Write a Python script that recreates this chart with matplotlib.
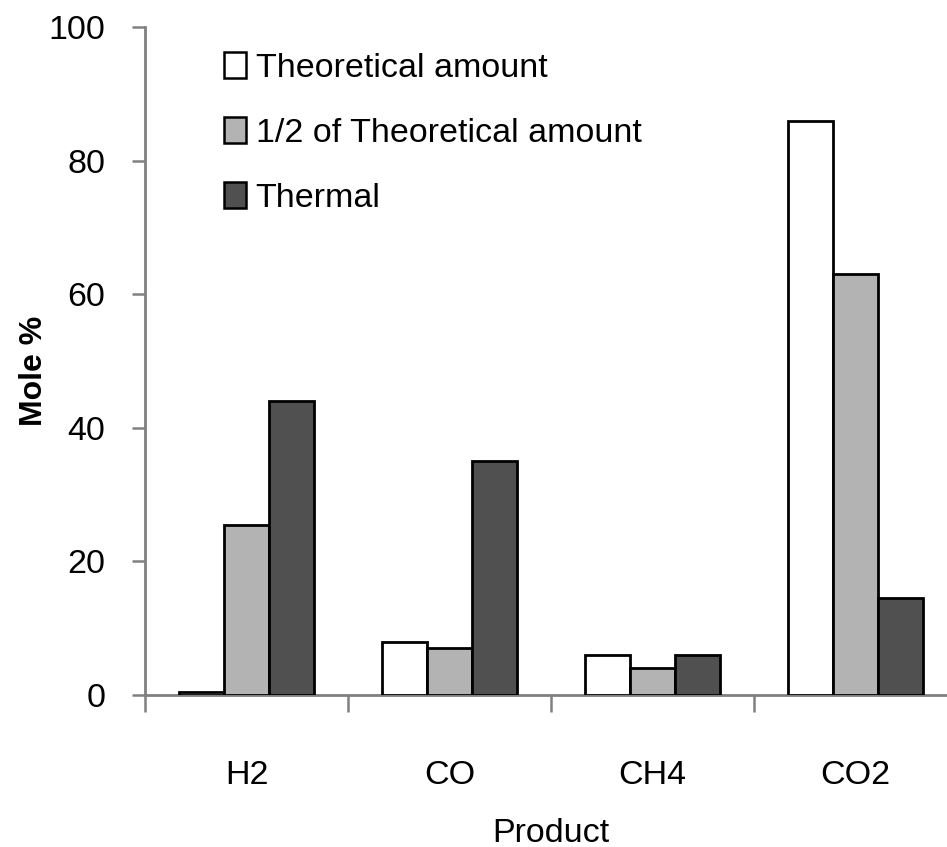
import matplotlib
matplotlib.use("Agg")
import matplotlib.pyplot as plt
import numpy as np
from matplotlib.patches import Patch

plt.rcParams['font.family'] = ['Liberation Sans', 'DejaVu Sans']

categories = ["H2", "CO", "CH4", "CO2"]
series_names = ["Theoretical amount", "1/2 of Theoretical amount", "Thermal"]
theoretical = [0.5, 8.0, 6.0, 86.0]
half_theoretical = [25.5, 7.0, 4.0, 63.0]
thermal = [44.0, 35.0, 6.0, 14.5]
colors = ["#ffffff", "#b3b3b3", "#505050"]

fig = plt.figure(figsize=(9.47, 8.47), dpi=100)
W, H = 947, 847
left, right, top, bottom = 145, 957, 27, 695
ax = fig.add_axes([left / W, 1 - bottom / H, (right - left) / W, (bottom - top) / H])

x = np.arange(len(categories))
bw = 0.222
for i, (vals, col) in enumerate(zip([theoretical, half_theoretical, thermal], colors)):
    ax.bar(x + (i - 1) * bw, vals, width=bw, color=col, edgecolor="black", linewidth=2.0, zorder=3)

ax.set_xlim(-0.5, len(categories) - 0.5)
ax.set_ylim(0, 100)
ax.set_yticks([0, 20, 40, 60, 80, 100])
ax.set_xticks(x)
ax.set_xticklabels(categories)
ax.set_xticks(np.arange(len(categories) + 1) - 0.5, minor=True)
ax.tick_params(axis='x', which='major', length=0, pad=47, labelsize=24.5)
ax.tick_params(axis='x', which='minor', length=12, width=1.8, color="#808080")
ax.tick_params(axis='y', length=9.5, width=1.8, color="#808080", labelsize=24.5, pad=19)

for s in ["top", "right"]:
    ax.spines[s].set_visible(False)
for s in ["left", "bottom"]:
    ax.spines[s].set_color("#808080")
    ax.spines[s].set_linewidth(2.0)

ax.set_ylabel("Mole %", fontsize=23, fontweight="bold")
ax.yaxis.set_label_coords((49 - left) / (right - left), 0.485)
ax.set_xlabel("Product", fontsize=24.5, labelpad=19)

handles = [Patch(facecolor=c, edgecolor="black", linewidth=1.8) for c in colors]
ax.legend(handles, series_names, loc="upper left", bbox_to_anchor=((224 - left) / (right - left), (bottom - 52) / (bottom - top)),
          frameon=False, fontsize=24.5, handlelength=0.65, handleheight=0.8, handletextpad=0.28,
          labelspacing=0.98, borderpad=0, borderaxespad=0)

fig.savefig("out.png", dpi=100)
